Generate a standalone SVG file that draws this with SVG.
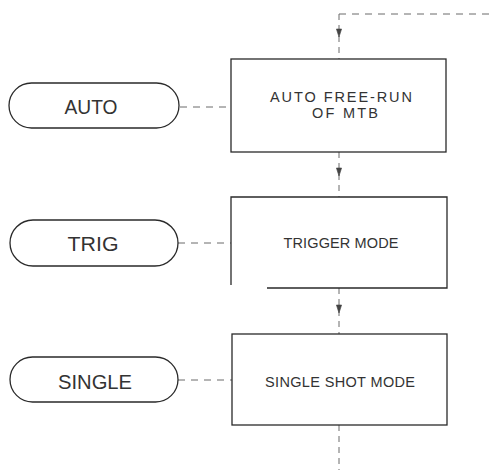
<svg xmlns="http://www.w3.org/2000/svg" xmlns:xlink="http://www.w3.org/1999/xlink" width="489" height="470" viewBox="0 0 489 470">
<style>
.bg{fill:#ffffff}
.shape{fill:none;stroke:#2a2a2a;stroke-width:1.3}
.dash{fill:none;stroke:#6a6a6a;stroke-width:1;stroke-dasharray:7 6}
.vdash{fill:none;stroke:#6a6a6a;stroke-width:1;stroke-dasharray:6 5}
.arr{fill:#444;stroke:#444;stroke-width:0.6}
.lbl{font-family:"Liberation Sans","DejaVu Sans",sans-serif;fill:#333;text-anchor:middle}
.big{font-size:21px}
.small{font-size:14.5px}
</style>
<defs>
<path id="arrow" d="M -2.6 0 L 2.6 0 L 0 8 Z"/>
</defs>
<rect class="bg" x="0" y="0" width="489" height="470"/>
<g id="connectors">
<path class="dash" d="M 489 14 H 339"/>
<path class="vdash" d="M 339 14 V 59"/>
<use xlink:href="#arrow" class="arr" x="339" y="29"/>
<path class="vdash" d="M 339 152 V 197"/>
<use xlink:href="#arrow" class="arr" x="339" y="168"/>
<path class="vdash" d="M 339 288 V 334"/>
<use xlink:href="#arrow" class="arr" x="339" y="305"/>
<path class="vdash" d="M 339 425 V 470"/>
<path class="dash" d="M 180 107 H 231"/>
<path class="dash" d="M 178 243 H 231"/>
<path class="dash" d="M 178 380 H 232"/>
</g>
<g id="node-auto">
<rect class="shape" x="9" y="83" width="170" height="45" rx="22.5" ry="22.5"/>
<text class="lbl big" x="91" y="114" textLength="53" lengthAdjust="spacingAndGlyphs">AUTO</text>
</g>
<g id="node-trig">
<rect class="shape" x="10" y="220" width="168" height="46" rx="23" ry="23"/>
<text class="lbl big" x="93" y="251" textLength="51" lengthAdjust="spacingAndGlyphs">TRIG</text>
</g>
<g id="node-single">
<rect class="shape" x="10" y="357" width="168" height="45" rx="22.5" ry="22.5"/>
<text class="lbl big" x="95" y="389" textLength="74" lengthAdjust="spacingAndGlyphs">SINGLE</text>
</g>
<g id="node-auto-free-run">
<rect class="shape" x="231" y="59" width="215" height="93"/>
<text class="lbl small" x="341" y="102" textLength="142" lengthAdjust="spacing">AUTO FREE-RUN</text>
<text class="lbl small" x="345" y="118" textLength="66" lengthAdjust="spacing">OF MTB</text>
</g>
<g id="node-trigger-mode">
<path class="shape" d="M 267 288 H 447 V 197 H 231 V 285"/>
<text class="lbl small" x="341" y="248" textLength="115" lengthAdjust="spacing">TRIGGER MODE</text>
</g>
<g id="node-single-shot">
<rect class="shape" x="232" y="334" width="215" height="91"/>
<text class="lbl small" x="340" y="387" textLength="150" lengthAdjust="spacing">SINGLE SHOT MODE</text>
</g>
</svg>
